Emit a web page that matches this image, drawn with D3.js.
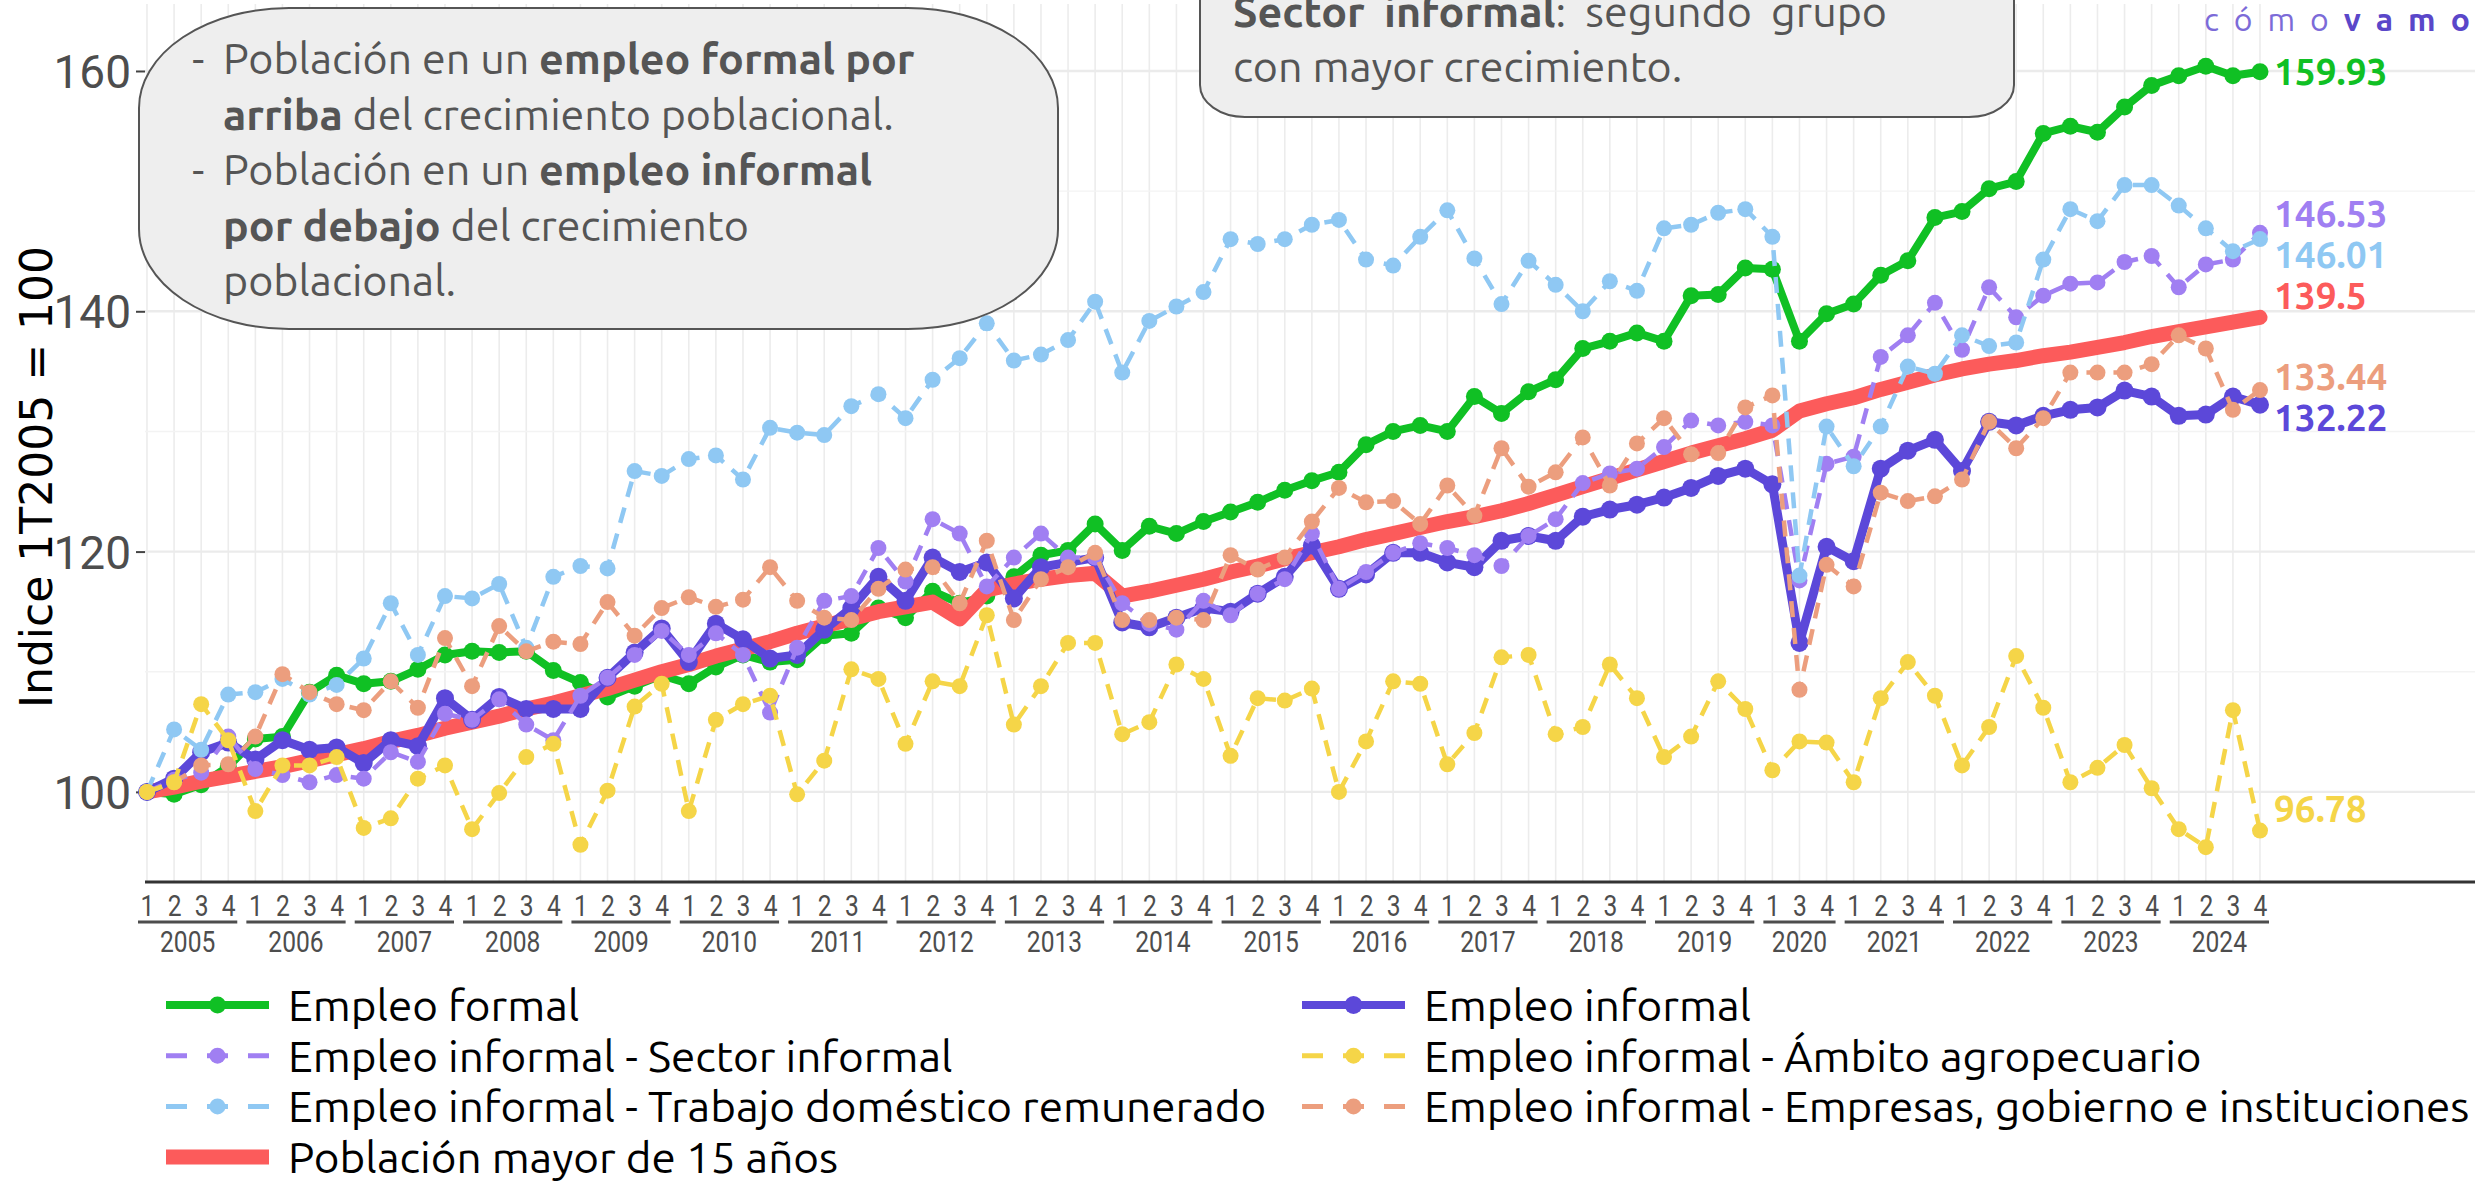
<!DOCTYPE html>
<html><head><meta charset="utf-8">
<script src="https://cdn.jsdelivr.net/npm/d3@7"></script>
<style>body{margin:0;background:#fff;overflow:hidden}svg{display:block}</style>
</head><body>
<svg id="c" width="2483" height="1182"></svg>
<script>
// ---------------- DATA ----------------
const years = ["2005","2006","2007","2008","2009","2010","2011","2012","2013","2014",
               "2015","2016","2017","2018","2019","2020","2021","2022","2023","2024"];
const quarterLabels = years.map(yr => yr === "2020" ? ["1","3","4"] : ["1","2","3","4"]);
const categories = [];
years.forEach((yr, k) => quarterLabels[k].forEach(q => categories.push(yr + "-" + q)));
const yTicks = [100, 120, 140, 160];
const yMinor = [110, 130, 150];

const empleoFormal = [100.0,99.8,100.6,102.1,104.4,104.6,108.3,109.7,109.0,109.2,
  110.2,111.4,111.7,111.6,111.7,110.1,109.1,107.9,108.8,109.7,
  109.0,110.4,111.4,110.8,111.0,113.0,113.2,115.3,114.5,116.7,
  115.7,116.3,117.9,119.7,120.1,122.3,120.1,122.1,121.5,122.5,
  123.3,124.1,125.1,125.9,126.6,128.9,130.0,130.5,130.0,132.9,
  131.5,133.3,134.3,136.9,137.5,138.2,137.5,141.3,141.4,143.6,
  143.5,137.5,139.8,140.6,143.0,144.2,147.8,148.3,150.2,150.8,
  154.8,155.4,154.9,157.0,158.8,159.6,160.4,159.6,159.93];
const empleoInformal = [100.0,101.1,103.3,104.1,102.7,104.3,103.5,103.7,102.4,104.3,
  103.8,107.8,106.0,107.9,106.9,106.9,106.9,109.5,111.6,113.6,
  110.8,114.0,112.7,111.1,111.4,113.5,115.3,117.9,115.9,119.5,
  118.3,119.1,116.1,118.7,119.1,119.5,114.1,113.7,114.5,115.3,
  115.0,116.5,117.9,120.5,116.9,118.1,119.9,119.9,119.1,118.7,
  120.9,121.3,120.9,122.9,123.5,123.9,124.5,125.3,126.3,126.9,
  125.6,112.4,120.4,119.2,126.9,128.4,129.3,126.7,130.8,130.5,
  131.3,131.8,132.0,133.4,132.9,131.3,131.4,132.9,132.22];
const sectorInformal = [100.0,101.0,101.6,104.6,101.9,101.4,100.8,101.4,101.1,103.3,
  102.5,106.5,106.0,107.7,105.6,104.3,108.0,109.5,111.4,113.4,
  111.4,113.2,111.4,106.6,112.0,115.9,116.3,120.3,117.5,122.7,
  121.5,117.1,119.5,121.5,119.5,119.5,115.7,114.0,113.5,115.9,
  114.7,116.5,117.7,121.5,116.9,118.3,119.9,120.7,120.3,119.7,
  118.8,121.3,122.7,125.7,126.5,126.9,128.7,130.9,130.5,130.8,
  130.5,117.6,127.3,127.9,136.2,138.0,140.7,136.8,142.0,139.5,
  141.3,142.3,142.4,144.1,144.6,142.0,143.9,144.3,146.53];
const trabajoDomestico = [100.0,105.2,103.5,108.1,108.3,109.4,108.1,108.9,111.1,115.7,
  111.4,116.3,116.1,117.3,112.0,117.9,118.8,118.6,126.7,126.3,
  127.7,128.0,126.0,130.3,129.9,129.7,132.1,133.1,131.1,134.3,
  136.1,139.0,135.9,136.4,137.6,140.8,134.9,139.2,140.4,141.6,
  146.0,145.6,146.0,147.2,147.6,144.3,143.8,146.2,148.4,144.4,
  140.6,144.2,142.2,140.0,142.5,141.7,146.9,147.2,148.2,148.5,
  146.2,118.0,130.4,127.1,130.4,135.4,134.8,138.0,137.1,137.4,
  144.3,148.5,147.5,150.5,150.5,148.8,146.9,145.0,146.01];
const empresasGobierno = [100.0,100.8,102.2,102.3,104.6,109.8,108.3,107.3,106.8,109.2,
  107.0,112.8,108.8,113.8,111.7,112.5,112.3,115.8,113.0,115.3,
  116.2,115.4,116.0,118.7,115.9,114.5,114.3,116.9,118.5,118.7,
  115.7,120.9,114.3,117.7,118.7,119.9,114.3,114.3,114.5,114.3,
  119.7,118.5,119.5,122.5,125.3,124.1,124.2,122.3,125.5,123.0,
  128.6,125.4,126.6,129.5,125.5,129.0,131.1,128.1,128.2,132.0,
  133.0,108.5,118.9,117.1,124.9,124.2,124.6,126.0,130.8,128.6,
  131.1,134.9,134.9,134.9,135.6,138.0,136.9,131.8,133.44];
const ambitoAgro = [100.0,100.8,107.3,104.3,98.4,102.2,102.2,102.9,97.0,97.8,
  101.1,102.2,96.9,99.9,102.9,104.0,95.6,100.1,107.1,109.0,
  98.4,106.0,107.3,108.0,99.8,102.6,110.2,109.4,104.0,109.2,
  108.8,114.7,105.6,108.8,112.4,112.4,104.8,105.8,110.6,109.4,
  103.0,107.8,107.6,108.6,100.0,104.2,109.2,109.0,102.3,104.9,
  111.2,111.4,104.8,105.4,110.6,107.8,102.9,104.6,109.2,106.9,
  101.8,104.2,104.1,100.8,107.8,110.8,108.0,102.2,105.4,111.3,
  107.0,100.8,102.0,103.9,100.3,96.9,95.4,106.8,96.78];
const poblacion = [100.0,100.4,100.9,101.3,101.7,102.1,102.6,103.1,103.6,104.2,
  104.7,105.3,105.8,106.3,106.9,107.4,108.0,108.6,109.3,110.0,
  110.6,111.3,111.9,112.5,113.2,113.8,114.4,115.0,115.4,115.8,
  114.4,116.8,117.3,117.7,118.0,118.2,116.3,116.7,117.2,117.7,
  118.3,118.8,119.4,119.9,120.4,121.0,121.5,122.0,122.5,122.9,
  123.4,124.0,124.7,125.4,126.1,126.8,127.5,128.2,128.8,129.4,
  130.1,131.7,132.3,132.8,133.5,134.1,134.7,135.2,135.6,135.9,
  136.3,136.6,137.0,137.4,137.9,138.3,138.7,139.1,139.5];

// ---------------- STYLE CONFIG ----------------
const series = [
  {name:"Empleo formal", values:empleoFormal, color:"#10c024", width:8, dash:null, r:8.5, nudge:0},
  {name:"Población mayor de 15 años", values:poblacion, color:"#fc5b5b", width:15, dash:null, r:0, nudge:-24},
  {name:"Empleo informal", values:empleoInformal, color:"#5c48d9", width:9, dash:null, r:9, nudge:0},
  {name:"Empleo informal - Sector informal", values:sectorInformal, color:"#a07ff2", width:4.5, dash:"16,11", r:8, nudge:0},
  {name:"Empleo informal - Trabajo doméstico remunerado", values:trabajoDomestico, color:"#8fc8f3", width:4.5, dash:"16,11", r:8, nudge:0},
  {name:"Empleo informal - Empresas, gobierno e instituciones", values:empresasGobierno, color:"#ec9e7e", width:4.5, dash:"16,11", r:8, nudge:0},
  {name:"Empleo informal - Ámbito agropecuario", values:ambitoAgro, color:"#f5d548", width:4.5, dash:"16,11", r:8, nudge:-22}
];
const legendOrder = [
  ["Empleo formal","Empleo informal"],
  ["Empleo informal - Sector informal","Empleo informal - Ámbito agropecuario"],
  ["Empleo informal - Trabajo doméstico remunerado","Empleo informal - Empresas, gobierno e instituciones"],
  ["Población mayor de 15 años", null]
];
const UI = "'Ubuntu','Open Sans','Noto Sans',sans-serif";

// ---------------- CHART ----------------
const svg = d3.select("#c");
const panelLeft = 145, panelRight = 2475, panelTop = 4, panelBottom = 882;
const x = d3.scalePoint().domain(categories).range([147, 2260]);
const y = d3.scaleLinear().domain([92.5, 163.66]).range([882, 27]);

const grid = svg.append("g");
grid.selectAll("line.v").data(categories).join("line")
  .attr("x1", d => x(d)).attr("x2", d => x(d))
  .attr("y1", panelTop).attr("y2", panelBottom)
  .attr("stroke", "#ececec").attr("stroke-width", 1.6);
grid.selectAll("line.mn").data(yMinor).join("line")
  .attr("x1", panelLeft).attr("x2", panelRight)
  .attr("y1", d => y(d)).attr("y2", d => y(d))
  .attr("stroke", "#f3f3f3").attr("stroke-width", 1.4);
grid.selectAll("line.mj").data(yTicks).join("line")
  .attr("x1", panelLeft).attr("x2", panelRight)
  .attr("y1", d => y(d)).attr("y2", d => y(d))
  .attr("stroke", "#ebebeb").attr("stroke-width", 2.4);

// y axis
const yAxis = svg.append("g").attr("transform", `translate(${panelLeft},0)`)
  .call(d3.axisLeft(y).tickValues(yTicks).tickSize(9).tickPadding(5).tickFormat(d3.format("d")));
yAxis.select(".domain").remove();
yAxis.selectAll(".tick line").attr("stroke", "#444").attr("stroke-width", 2);
yAxis.selectAll(".tick text").attr("fill", "#4d4d4d")
  .style("font-family", "Roboto, 'Open Sans', sans-serif").style("font-size", "46px")
  .attr("dy", "0.36em");

// x axis
const xAxis = svg.append("g").attr("transform", `translate(0,${panelBottom})`)
  .call(d3.axisBottom(x).tickSize(0).tickPadding(0).tickFormat(d => d.split("-")[1]));
xAxis.select(".domain").remove();
xAxis.selectAll(".tick text").attr("fill", "#4d4d4d").attr("y", 23).attr("dy", "0.36em")
  .style("font-family", "Roboto, sans-serif").style("font-size", "30px")
  .attr("transform", "scale(0.82,1)");
const yearG = svg.append("g");
years.forEach((yr, k) => {
  const qs = quarterLabels[k].map(q => yr + "-" + q);
  const x1 = x(qs[0]) - 9, x2 = x(qs[qs.length - 1]) + 9;
  yearG.append("line").attr("x1", x1).attr("x2", x2).attr("y1", 922).attr("y2", 922)
    .attr("stroke", "#4d4d4d").attr("stroke-width", 3);
  yearG.append("text").attr("transform", `translate(${(x1 + x2) / 2},941) scale(0.82,1)`)
    .attr("text-anchor", "middle").attr("dy", "0.36em").attr("fill", "#4d4d4d")
    .style("font-family", "Roboto, sans-serif").style("font-size", "30px").text(yr);
});
svg.append("line").attr("x1", panelLeft).attr("x2", panelRight).attr("y1", panelBottom).attr("y2", panelBottom)
  .attr("stroke", "#333").attr("stroke-width", 3);

// y title
svg.append("text").attr("transform", "translate(36,477) rotate(-90)")
  .attr("text-anchor", "middle").attr("dy", "0.36em")
  .style("font-family", "'DejaVu Sans',Verdana,sans-serif").style("font-size", "44px")
  .attr("fill", "#000").text("Indice 1T2005 = 100");

// lines
const line = d3.line().x((d, i) => x(categories[i])).y(d => y(d));
const linesG = svg.append("g");
series.forEach(s => {
  const g = linesG.append("g");
  g.append("path").datum(s.values).attr("d", line).attr("fill", "none")
    .attr("stroke", s.color).attr("stroke-width", s.width)
    .attr("stroke-linejoin", "round").attr("stroke-linecap", s.dash ? "butt" : "round")
    .attr("stroke-dasharray", s.dash);
  if (s.r > 0) {
    g.selectAll("circle").data(s.values).join("circle")
      .attr("cx", (d, i) => x(categories[i])).attr("cy", d => y(d)).attr("r", s.r)
      .attr("fill", s.color);
  }
});

// end labels with simple repel
const labs = series.map(s => {
  const v = s.values[s.values.length - 1];
  return {s, v, y: y(v) + s.nudge};
}).sort((a, b) => a.y - b.y);
for (let it = 0; it < 100; it++) {
  for (let k = 1; k < labs.length; k++) {
    const gap = labs[k].y - labs[k - 1].y;
    if (gap < 41) { const d = (41 - gap) / 2; labs[k - 1].y -= d; labs[k].y += d; }
  }
}
svg.append("g").selectAll("text").data(labs).join("text")
  .attr("x", 2274).attr("y", d => d.y).attr("dy", "0.36em")
  .attr("fill", d => d.s.color).style("font-family", UI).style("font-weight", "700")
  .style("font-size", "37px").text(d => String(d.v));

// annotation box 1
const ann = svg.append("g");
const annFont = "43px";
ann.append("rect").attr("x", 139).attr("y", 8).attr("width", 919).attr("height", 321)
  .attr("rx", 150).attr("ry", 100).attr("fill", "#eeeeee").attr("stroke", "#555").attr("stroke-width", 2);
const box1 = [
  {dash:true, parts:[["Población en un ",0],["empleo formal por",1]]},
  {dash:false, parts:[["arriba",1],[" del crecimiento poblacional.",0]]},
  {dash:true, parts:[["Población en un ",0],["empleo informal",1]]},
  {dash:false, parts:[["por debajo",1],[" del crecimiento",0]]},
  {dash:false, parts:[["poblacional.",0]]}
];
box1.forEach((ln, k) => {
  const by = 74 + k * 55.5;
  if (ln.dash) ann.append("text").attr("x", 192).attr("y", by).attr("fill", "#555")
    .style("font-family", UI).style("font-size", annFont).text("-");
  const t = ann.append("text").attr("x", 223).attr("y", by).attr("fill", "#555")
    .style("font-family", UI).style("font-size", annFont).attr("xml:space", "preserve");
  ln.parts.forEach(p => t.append("tspan").style("font-weight", p[1] ? "700" : "400").text(p[0]));
});

// annotation box 2
ann.append("rect").attr("x", 1200).attr("y", -80).attr("width", 814).attr("height", 197)
  .attr("rx", 45).attr("ry", 32).attr("fill", "#eeeeee").attr("stroke", "#555").attr("stroke-width", 2);
const words = [[["Sector",1]],[["informal",1],[":",0]],[["segundo",0]],[["grupo",0]]];
const wEls = words.map(w => {
  const t = ann.append("text").attr("y", 27).attr("fill", "#555")
    .style("font-family", UI).style("font-size", annFont);
  w.forEach(p => t.append("tspan").style("font-weight", p[1] ? "700" : "400").text(p[0]));
  return t;
});
const widths = wEls.map(t => t.node().getComputedTextLength());
const lineW = 654, gapW = (lineW - d3.sum(widths)) / (widths.length - 1);
let cx = 1233;
wEls.forEach((t, k) => { t.attr("x", cx); cx += widths[k] + gapW; });
ann.append("text").attr("x", 1233).attr("y", 82).attr("fill", "#555")
  .style("font-family", UI).style("font-size", annFont).text("con mayor crecimiento.");

// logo
const logo = svg.append("text").attr("x", 2204).attr("y", 31)
  .style("font-family", UI).style("font-size", "32px").style("letter-spacing", "15px");
logo.append("tspan").attr("fill", "#7c6bd8").style("font-weight", "400").text("cómo");
logo.append("tspan").attr("fill", "#5a47c9").style("font-weight", "700").text("vamos");

// legend
const leg = svg.append("g");
const colKeyX = [166, 1302], colTextX = [288, 1424];
legendOrder.forEach((row, r) => {
  const cy = 1005 + r * 50.7;
  row.forEach((name, c) => {
    if (!name) return;
    const s = series.find(d => d.name === name);
    const x0 = colKeyX[c], x1 = x0 + 103, xm = (x0 + x1) / 2;
    leg.append("line").attr("x1", x0).attr("x2", x1).attr("y1", cy).attr("y2", cy)
      .attr("stroke", s.color).attr("stroke-width", s.dash ? 5 : (s.r ? 8 : 15))
      .attr("stroke-dasharray", s.dash ? "21,20" : null);
    if (s.r) leg.append("circle").attr("cx", xm).attr("cy", cy).attr("r", s.r).attr("fill", s.color);
    leg.append("text").attr("x", colTextX[c]).attr("y", cy).attr("dy", "0.36em")
      .style("font-family", UI).style("font-size", "44px").attr("fill", "#000").text(name);
  });
});
</script>
</body></html>
